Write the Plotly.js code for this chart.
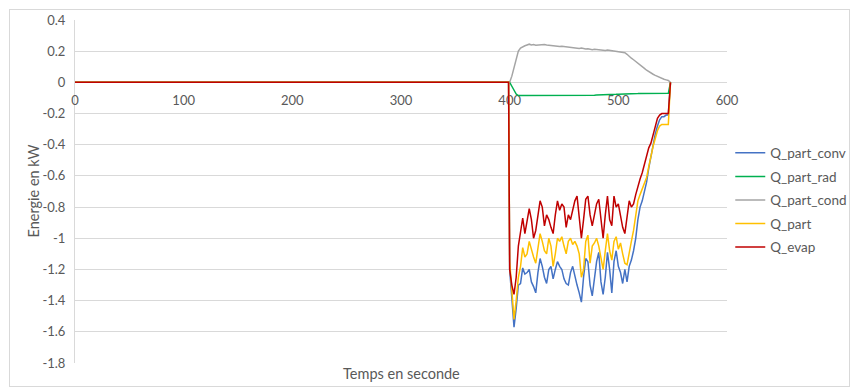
<!DOCTYPE html>
<html><head><meta charset="utf-8">
<script src="https://cdn.plot.ly/plotly-3.0.1.min.js"></script>
<style>
html,body{margin:0;padding:0;background:#fff;}
#wrap{position:relative;width:851px;height:387px;}
#chart{position:absolute;left:0;top:0;width:851px;height:387px;}
#frame{position:absolute;left:9px;top:9px;width:839px;height:376px;border:1px solid #d9d9d9;pointer-events:none;}
</style></head>
<body><div id="wrap"><div id="chart"></div><div id="frame"></div></div>
<script>
const time = [0,399,400,402,404,406,408,410,412,414,416,418,420,422,424,426,428,430,432,434,436,438,440,442,444,446,448,450,452,454,456,458,460,462,464,466,468,470,472,474,476,478,480,482,484,486,488,490,492,494,496,498,500,502,504,506,508,510,512,514,516,518,520,522,524,526,528,530,532,534,536,538,540,542,544,546,548];

const qPartConv = [0,0,-1.2,-1.4,-1.57,-1.45,-1.3,-1.29,-1.19,-1.23,-1.22,-1.2,-1.28,-1.31,-1.35,-1.22,-1.13,-1.18,-1.25,-1.29,-1.2,-1.18,-1.26,-1.2,-1.15,-1.18,-1.2,-1.26,-1.29,-1.3,-1.22,-1.18,-1.25,-1.3,-1.35,-1.41,-1.25,-1.13,-1.15,-1.3,-1.37,-1.25,-1.15,-1.09,-1.28,-1.36,-1.25,-1.09,-1.2,-1.35,-1.15,-1.08,-1.18,-1.22,-1.29,-1.2,-1.28,-1.18,-1.14,-1.08,-1.0,-0.88,-0.8,-0.76,-0.7,-0.64,-0.55,-0.47,-0.39,-0.33,-0.28,-0.24,-0.22,-0.22,-0.21,-0.21,0];

const qPartRad = [0,0,0,-0.025,-0.05,-0.075,-0.085,-0.085,-0.086,-0.085,-0.085,-0.086,-0.085,-0.085,-0.084,-0.085,-0.086,-0.085,-0.085,-0.085,-0.084,-0.085,-0.085,-0.086,-0.085,-0.085,-0.084,-0.085,-0.085,-0.085,-0.084,-0.084,-0.085,-0.084,-0.084,-0.083,-0.084,-0.083,-0.083,-0.082,-0.082,-0.082,-0.081,-0.081,-0.08,-0.08,-0.079,-0.079,-0.078,-0.078,-0.077,-0.077,-0.076,-0.076,-0.075,-0.075,-0.074,-0.074,-0.073,-0.073,-0.072,-0.072,-0.071,-0.071,-0.07,-0.07,-0.07,-0.07,-0.07,-0.07,-0.07,-0.07,-0.07,-0.07,-0.07,-0.07,0];

const qPartCond = [0,0,0,0.04,0.1,0.16,0.2,0.22,0.23,0.235,0.24,0.245,0.24,0.242,0.238,0.24,0.243,0.245,0.243,0.24,0.238,0.24,0.238,0.236,0.232,0.23,0.232,0.23,0.228,0.226,0.225,0.224,0.222,0.22,0.218,0.22,0.216,0.214,0.215,0.212,0.21,0.212,0.21,0.208,0.21,0.206,0.205,0.207,0.205,0.203,0.2,0.202,0.2,0.198,0.195,0.19,0.18,0.165,0.155,0.145,0.135,0.125,0.115,0.1,0.09,0.078,0.068,0.06,0.052,0.045,0.038,0.032,0.026,0.02,0.016,0.012,0];

const qPart = [0,0,-1.15,-1.35,-1.52,-1.4,-1.25,-1.18,-1.06,-1.12,-1.1,-1.02,-1.08,-1.12,-1.16,-1.05,-0.97,-1.02,-1.08,-1.1,-1.0,-1.05,-1.18,-1.1,-1.0,-1.02,-0.99,-1.05,-1.1,-1.02,-1.0,-1.04,-1.02,-1.05,-1.1,-1.25,-1.2,-1.02,-0.98,-1.16,-1.05,-1.03,-1.0,-1.05,-1.14,-1.2,-1.08,-0.97,-1.08,-1.14,-1.02,-0.99,-1.07,-1.03,-1.1,-1.16,-1.17,-1.08,-1.02,-0.95,-0.85,-0.76,-0.72,-0.68,-0.64,-0.61,-0.54,-0.47,-0.41,-0.36,-0.31,-0.28,-0.27,-0.27,-0.27,-0.27,0];

const qEvap = [0,0,-1.2,-1.3,-1.36,-1.25,-1.05,-0.95,-0.87,-0.97,-0.9,-0.81,-0.88,-1.0,-0.95,-0.85,-0.76,-0.8,-0.92,-0.85,-0.88,-0.93,-0.97,-0.85,-0.76,-0.82,-0.78,-0.8,-0.93,-0.85,-0.88,-0.82,-0.76,-0.73,-0.85,-1.0,-0.88,-0.75,-0.73,-0.85,-0.92,-0.85,-0.78,-0.75,-0.88,-1.0,-0.85,-0.73,-0.88,-0.92,-0.73,-0.8,-0.78,-0.85,-0.93,-0.97,-0.85,-0.76,-0.8,-0.78,-0.72,-0.66,-0.62,-0.58,-0.53,-0.47,-0.42,-0.39,-0.34,-0.29,-0.23,-0.21,-0.2,-0.2,-0.2,-0.2,0];

const seriesNames = ['Q_part_conv','Q_part_rad','Q_part_cond','Q_part','Q_evap'];
const seriesColors = ['#4472C4','#00B050','#A5A5A5','#FFC000','#C00000'];
const seriesValues = [qPartConv,qPartRad,qPartCond,qPart,qEvap];

const xTicks = [0,100,200,300,400,500,600];
const yTicks = [-1.8,-1.6,-1.4,-1.2,-1,-0.8,-0.6,-0.4,-0.2,0,0.2,0.4];

const traces = seriesNames.map((n,i)=>({
  x: time, y: seriesValues[i], type:'scatter', mode:'lines', name:n,
  legendgroup: 'g'+i,
  line:{color:seriesColors[i], width:1.5}
}));

const fontFam = 'Lato, "Open Sans", sans-serif';
const grey = '#595959';
const layout = {
  width:851, height:387,
  margin:{l:75, r:124, t:20, b:24, autoexpand:false},
  paper_bgcolor:'rgba(0,0,0,0)', plot_bgcolor:'#fff',
  font:{family:fontFam, size:13, color:grey},
  showlegend:true,
  legend:{x:1.005, xanchor:'left', y:0.475, yanchor:'middle', tracegroupgap:3,
          font:{family:fontFam, size:13.5, color:grey}, bgcolor:'rgba(0,0,0,0)'},
  xaxis:{range:[0,600], tickvals:xTicks, ticktext:xTicks.map(String),
         showgrid:false, zeroline:false, showline:true, linecolor:'#d9d9d9', linewidth:1,
         layer:'below traces',
         anchor:'free', position:(0-(-1.8))/2.2, ticks:'', ticklabelstandoff:6,
         tickfont:{family:fontFam, size:13, color:grey}},
  yaxis:{range:[-1.8,0.4], tickvals:yTicks, ticktext:yTicks.map(v=>String(v)),
         showgrid:true, gridcolor:'#d9d9d9', gridwidth:1, zeroline:false,
         layer:'below traces',
         showline:true, linecolor:'#d9d9d9', ticks:'', ticklabelstandoff:6,
         tickfont:{family:fontFam, size:13, color:grey}},
  annotations:[
    {text:'Temps en seconde', xref:'paper', yref:'paper', x:0.5, y:-0.032, xanchor:'center', yanchor:'middle',
     showarrow:false, font:{family:fontFam, size:14.5, color:grey}},
    {text:'Energie en kW', xref:'paper', yref:'paper', x:-0.0644, y:0.5, xanchor:'center', yanchor:'middle',
     textangle:-90, showarrow:false, font:{family:fontFam, size:14.5, color:grey}}
  ]
};
Plotly.newPlot('chart', traces, layout, {displayModeBar:false, staticPlot:true});
</script></body></html>
